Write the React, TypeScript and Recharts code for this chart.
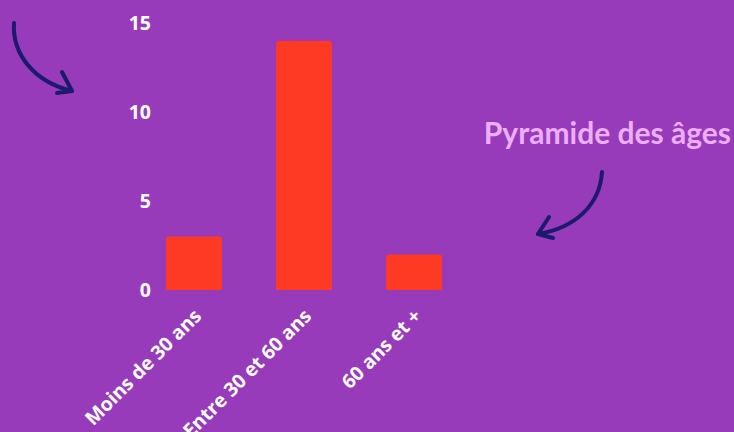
import { BarChart, Bar, XAxis, YAxis } from "recharts";

const categories = ["Moins de 30 ans", "Entre 30 et 60 ans", "60 ans et +"];
const counts = [3, 14, 2];
const yTicks = [0, 5, 10, 15];

const data = categories.map((name, i) => ({ name, value: counts[i] }));

const BG = "#973bbb";
const BAR = "#ff3a24";
const NAVY = "#1b1a6e";

const tickFont = { fontFamily: "Open Sans", fontWeight: 700, fill: "#ffffff" };

function XTick(props: any) {
  const { x, y, payload } = props;
  return (
    <g transform={`translate(${x},${y})`}>
      <text x={0} y={0} dy={19.7} dx={-7.6} textAnchor="end" transform="rotate(-45)" style={{ ...tickFont, fontSize: 19.5 }}>
        {payload.value}
      </text>
    </g>
  );
}

export default function App() {
  return (
    <div style={{ position: "relative", width: 734, height: 432, background: BG, overflow: "hidden" }}>
      <style>{`body{margin:0}`}</style>
      <BarChart
        width={734}
        height={432}
        data={data}
        margin={{ top: 23, right: 265, left: 0, bottom: 0 }}
      >
        <XAxis
          dataKey="name"
          axisLine={false}
          tickLine={false}
          interval={0}
          tick={<XTick />}
          height={142}
        />
        <YAxis
          width={139}
          domain={[0, 15]}
          ticks={yTicks}
          axisLine={false}
          tickLine={false}
          tickSize={0}
          tickMargin={0}
          tick={{ ...tickFont, fontSize: 19.5, dx: 12 }}
        />
        <Bar dataKey="value" fill={BAR} barSize={56} radius={[3, 3, 0, 0]} isAnimationActive={false} />
      </BarChart>
      <svg width={734} height={432} style={{ position: "absolute", left: 0, top: 0, pointerEvents: "none" }}>
        <g fill="none" stroke={NAVY} strokeWidth={4} strokeLinecap="round" strokeLinejoin="round">
          <path d="M14 23 C 12 55, 35 82, 72 91" />
          <path d="M62 72 L 72 91 L 57 93" />
          <path d="M602 172 C 600 205, 575 228, 538 234" />
          <path d="M549 217 L 538 234 L 553 238" />
        </g>
        <text x={731} y={144} textAnchor="end" style={{ fontFamily: "Lato", fontWeight: 700, fontSize: 30, fill: "#ecaef7" }}>
          Pyramide des âges
        </text>
      </svg>
    </div>
  );
}
